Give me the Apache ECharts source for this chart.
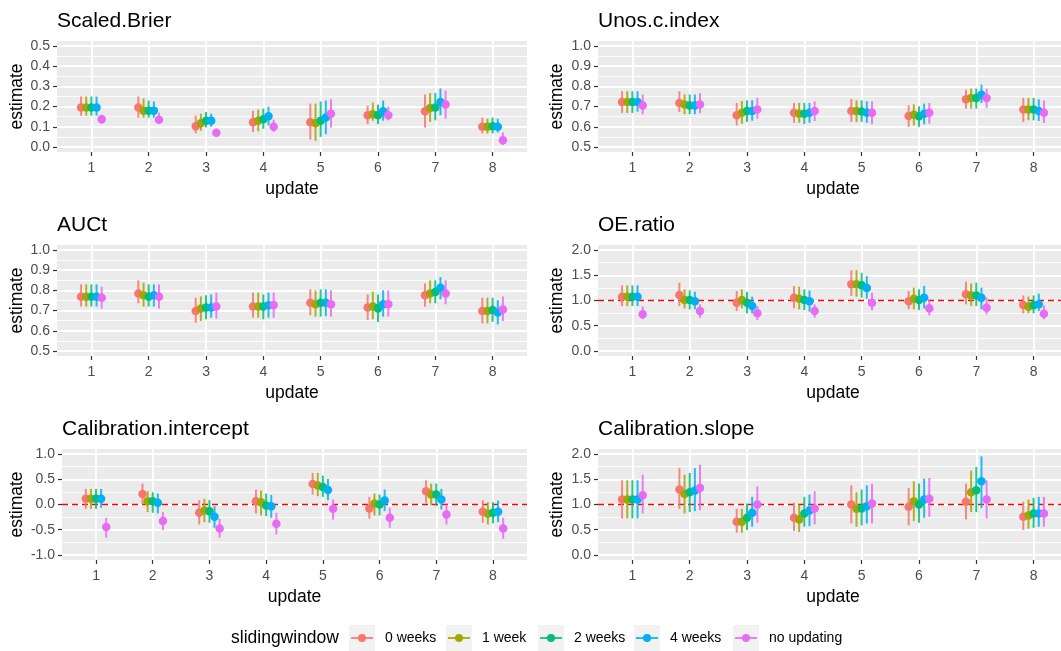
<!DOCTYPE html>
<html>
<head>
<meta charset="utf-8">
<script src="https://cdn.jsdelivr.net/npm/echarts@6/dist/echarts.min.js"></script>
<style>
html,body{margin:0;padding:0;background:#fff;}
#chart{width:1061px;height:651px;}
</style>
</head>
<body>
<div id="chart"></div>
<script>
// categories
const updates = [1, 2, 3, 4, 5, 6, 7, 8];
const windows = ['0 weeks', '1 week', '2 weeks', '4 weeks', 'no updating'];
const metrics = ['Scaled.Brier', 'Unos.c.index', 'AUCt', 'OE.ratio', 'Calibration.intercept', 'Calibration.slope'];
const colors = ['#F8766D', '#A3A500', '#00BF7D', '#00B0F6', '#E76BF3'];

// tick labels per panel
const brierTicks = [0, 0.1, 0.2, 0.3, 0.4, 0.5];
const unosTicks = [0.5, 0.6, 0.7, 0.8, 0.9, 1.0];
const aucTicks = [0.5, 0.6, 0.7, 0.8, 0.9, 1.0];
const oeTicks = [0, 0.5, 1.0, 1.5, 2.0];
const interceptTicks = [-1.0, -0.5, 0, 0.5, 1.0];
const slopeTicks = [0, 0.5, 1.0, 1.5, 2.0];
// reference lines (dashed red)
const refLines = [null, null, null, 1, 0, 1];

// Scaled.Brier  (rows = sliding windows, cols = updates 1..8)
const brierEst = [
  [0.195, 0.195, 0.103, 0.122, 0.122, 0.157, 0.177, 0.100],
  [0.195, 0.180, 0.117, 0.130, 0.117, 0.162, 0.193, 0.100],
  [0.195, 0.180, 0.130, 0.137, 0.130, 0.157, 0.195, 0.103],
  [0.195, 0.180, 0.130, 0.152, 0.146, 0.177, 0.223, 0.100],
  [0.137, 0.135, 0.070, 0.100, 0.165, 0.157, 0.210, 0.033]
];
const brierLo = [
  [0.155, 0.145, 0.067, 0.075, 0.037, 0.113, 0.096, 0.067],
  [0.155, 0.145, 0.080, 0.078, 0.030, 0.130, 0.124, 0.067],
  [0.155, 0.145, 0.097, 0.090, 0.050, 0.113, 0.132, 0.067],
  [0.155, 0.145, 0.100, 0.107, 0.063, 0.130, 0.157, 0.072],
  [0.115, 0.120, 0.062, 0.075, 0.096, 0.132, 0.140, 0.010]
];
const brierHi = [
  [0.250, 0.250, 0.155, 0.180, 0.215, 0.205, 0.260, 0.145],
  [0.250, 0.240, 0.165, 0.185, 0.215, 0.220, 0.267, 0.140],
  [0.250, 0.230, 0.173, 0.190, 0.225, 0.210, 0.267, 0.145],
  [0.250, 0.225, 0.165, 0.200, 0.230, 0.230, 0.290, 0.140],
  [0.160, 0.170, 0.080, 0.135, 0.237, 0.200, 0.280, 0.072]
];

// Unos.c.index
const unosEst = [
  [0.723, 0.718, 0.657, 0.670, 0.678, 0.653, 0.736, 0.685],
  [0.723, 0.710, 0.670, 0.665, 0.678, 0.660, 0.743, 0.685],
  [0.723, 0.706, 0.678, 0.665, 0.676, 0.652, 0.743, 0.685],
  [0.723, 0.706, 0.678, 0.670, 0.670, 0.665, 0.759, 0.678],
  [0.706, 0.710, 0.686, 0.678, 0.670, 0.670, 0.743, 0.670]
];
const unosLo = [
  [0.668, 0.673, 0.607, 0.620, 0.624, 0.600, 0.690, 0.624],
  [0.668, 0.662, 0.615, 0.620, 0.624, 0.606, 0.690, 0.632],
  [0.668, 0.662, 0.624, 0.613, 0.624, 0.600, 0.690, 0.632],
  [0.675, 0.662, 0.630, 0.620, 0.620, 0.612, 0.718, 0.629],
  [0.662, 0.668, 0.640, 0.629, 0.612, 0.616, 0.693, 0.619]
];
const unosHi = [
  [0.776, 0.776, 0.718, 0.718, 0.738, 0.706, 0.784, 0.743],
  [0.776, 0.760, 0.728, 0.718, 0.731, 0.711, 0.789, 0.743],
  [0.776, 0.760, 0.731, 0.718, 0.731, 0.701, 0.789, 0.743],
  [0.776, 0.760, 0.731, 0.718, 0.726, 0.715, 0.809, 0.736],
  [0.760, 0.767, 0.743, 0.726, 0.726, 0.718, 0.789, 0.731]
];

// AUCt
const aucEst = [
  [0.769, 0.785, 0.698, 0.720, 0.739, 0.715, 0.776, 0.698],
  [0.769, 0.776, 0.710, 0.720, 0.731, 0.720, 0.785, 0.698],
  [0.769, 0.769, 0.715, 0.720, 0.739, 0.711, 0.792, 0.703],
  [0.769, 0.776, 0.715, 0.726, 0.739, 0.731, 0.813, 0.690],
  [0.764, 0.769, 0.720, 0.728, 0.731, 0.731, 0.785, 0.706]
];
const aucLo = [
  [0.720, 0.736, 0.640, 0.665, 0.677, 0.653, 0.720, 0.637],
  [0.720, 0.720, 0.648, 0.665, 0.670, 0.657, 0.736, 0.637],
  [0.720, 0.720, 0.657, 0.657, 0.670, 0.643, 0.736, 0.644],
  [0.720, 0.720, 0.665, 0.665, 0.673, 0.670, 0.756, 0.632],
  [0.710, 0.710, 0.660, 0.665, 0.670, 0.670, 0.731, 0.648]
];
const aucHi = [
  [0.830, 0.850, 0.764, 0.789, 0.805, 0.780, 0.835, 0.764],
  [0.830, 0.838, 0.770, 0.789, 0.800, 0.794, 0.850, 0.764],
  [0.830, 0.830, 0.776, 0.780, 0.805, 0.780, 0.850, 0.764],
  [0.830, 0.830, 0.780, 0.789, 0.805, 0.800, 0.866, 0.752],
  [0.818, 0.830, 0.789, 0.789, 0.800, 0.800, 0.850, 0.770]
];

// OE.ratio
const oeEst = [
  [1.076, 1.109, 0.957, 1.056, 1.320, 0.983, 1.122, 0.911],
  [1.076, 1.010, 1.010, 1.036, 1.320, 1.036, 1.100, 0.878],
  [1.076, 1.010, 0.957, 1.010, 1.300, 1.010, 1.100, 0.904],
  [1.076, 0.983, 0.890, 0.983, 1.247, 1.056, 1.056, 0.924],
  [0.726, 0.792, 0.745, 0.792, 0.957, 0.845, 0.858, 0.739]
];
const oeLo = [
  [0.890, 0.890, 0.792, 0.845, 1.090, 0.825, 0.924, 0.746],
  [0.890, 0.845, 0.845, 0.825, 1.076, 0.825, 0.890, 0.746],
  [0.890, 0.825, 0.745, 0.810, 1.056, 0.810, 0.890, 0.746],
  [0.890, 0.825, 0.745, 0.780, 1.036, 0.845, 0.825, 0.792],
  [0.630, 0.660, 0.614, 0.660, 0.810, 0.706, 0.726, 0.627]
];
const oeHi = [
  [1.300, 1.353, 1.188, 1.287, 1.600, 1.188, 1.373, 1.100],
  [1.300, 1.220, 1.220, 1.274, 1.600, 1.254, 1.340, 1.076],
  [1.300, 1.200, 1.170, 1.220, 1.550, 1.220, 1.353, 1.100],
  [1.300, 1.175, 1.076, 1.200, 1.485, 1.287, 1.254, 1.135],
  [0.880, 0.924, 0.890, 0.924, 1.155, 1.023, 1.056, 0.904]
];

// Calibration.intercept
const interceptEst = [
  [0.112, 0.210, -0.164, 0.066, 0.408, -0.079, 0.263, -0.145],
  [0.112, 0.066, -0.118, 0.046, 0.375, 0.020, 0.197, -0.184],
  [0.112, 0.066, -0.132, -0.020, 0.349, 0.000, 0.197, -0.164],
  [0.112, 0.033, -0.243, -0.033, 0.289, 0.079, 0.099, -0.145],
  [-0.447, -0.329, -0.474, -0.382, -0.086, -0.263, -0.197, -0.474]
];
const interceptLo = [
  [-0.086, 0.000, -0.395, -0.178, 0.197, -0.283, 0.033, -0.362],
  [-0.086, -0.151, -0.349, -0.217, 0.164, -0.217, -0.020, -0.395],
  [-0.086, -0.164, -0.362, -0.230, 0.151, -0.217, -0.033, -0.375],
  [-0.066, -0.178, -0.460, -0.263, 0.086, -0.132, -0.099, -0.349],
  [-0.658, -0.507, -0.658, -0.592, -0.296, -0.460, -0.395, -0.678]
];
const interceptHi = [
  [0.310, 0.414, 0.086, 0.296, 0.625, 0.151, 0.480, 0.086],
  [0.310, 0.263, 0.112, 0.276, 0.625, 0.217, 0.414, 0.046],
  [0.310, 0.243, 0.086, 0.217, 0.572, 0.197, 0.414, 0.046],
  [0.310, 0.217, -0.033, 0.190, 0.507, 0.296, 0.310, 0.079],
  [-0.263, -0.151, -0.283, -0.164, 0.099, -0.066, 0.000, -0.263]
];

// Calibration.slope
const slopeEst = [
  [1.099, 1.296, 0.658, 0.737, 1.000, 0.954, 1.053, 0.757],
  [1.099, 1.210, 0.658, 0.704, 0.914, 1.066, 1.243, 0.783],
  [1.099, 1.243, 0.737, 0.822, 0.921, 1.000, 1.283, 0.822],
  [1.099, 1.276, 0.836, 0.882, 0.967, 1.099, 1.460, 0.822],
  [1.184, 1.329, 1.000, 0.921, 1.020, 1.112, 1.099, 0.822]
];
const slopeLo = [
  [0.724, 0.914, 0.440, 0.474, 0.625, 0.586, 0.704, 0.493],
  [0.724, 0.822, 0.440, 0.454, 0.559, 0.671, 0.849, 0.520],
  [0.724, 0.849, 0.493, 0.559, 0.586, 0.638, 0.849, 0.539],
  [0.724, 0.868, 0.559, 0.572, 0.625, 0.737, 0.928, 0.559],
  [0.822, 0.888, 0.638, 0.605, 0.625, 0.757, 0.724, 0.559]
];
const slopeHi = [
  [1.480, 1.720, 0.914, 1.033, 1.380, 1.329, 1.414, 1.053],
  [1.480, 1.590, 0.914, 1.000, 1.243, 1.460, 1.671, 1.099],
  [1.480, 1.625, 1.020, 1.151, 1.296, 1.414, 1.743, 1.132],
  [1.480, 1.720, 1.151, 1.197, 1.380, 1.513, 1.954, 1.151],
  [1.590, 1.790, 1.360, 1.263, 1.414, 1.526, 1.480, 1.151]
];

const panelData = [
  {est: brierEst, lo: brierLo, hi: brierHi, ticks: brierTicks},
  {est: unosEst, lo: unosLo, hi: unosHi, ticks: unosTicks},
  {est: aucEst, lo: aucLo, hi: aucHi, ticks: aucTicks},
  {est: oeEst, lo: oeLo, hi: oeHi, ticks: oeTicks},
  {est: interceptEst, lo: interceptLo, hi: interceptHi, ticks: interceptTicks},
  {est: slopeEst, lo: slopeLo, hi: slopeHi, ticks: slopeTicks}
];

// layout (pixels)
const layout = [
  {left: 57, top: 41, width: 470},
  {left: 598, top: 41, width: 470},
  {left: 57, top: 245, width: 470},
  {left: 598, top: 245, width: 470},
  {left: 62, top: 449, width: 465},
  {left: 598, top: 449, width: 470}
];
const panelH = 111;
const estimateX = [17.5, 557]; // centre of the rotated y title per column
const dodge = [-0.18, -0.09, 0, 0.09, 0.18];
const font = '"Liberation Sans", Arial, sans-serif';

const grids = [], xAxes = [], yAxes = [], series = [], graphics = [];

panelData.forEach((p, i) => {
  const L = layout[i];
  const t = p.ticks;
  const r = t[t.length - 1] - t[0];
  const yMin = t[0] - 0.05 * r, yMax = t[t.length - 1] + 0.05 * r;
  const minors = t.slice(1).map((v, j) => (v + t[j]) / 2);

  grids.push({
    left: L.left, top: L.top, width: L.width, height: panelH,
    show: true, backgroundColor: '#EBEBEB', borderWidth: 0,
    containLabel: false, outerBoundsMode: 'none'
  });

  xAxes.push({
    type: 'value', gridIndex: i, min: 0.4, max: 8.6,
    name: 'update', nameLocation: 'middle', nameGap: 28,
    nameTextStyle: {fontSize: 17.5, color: '#000', fontFamily: font},
    axisLine: {show: false, onZero: false},
    axisTick: {show: true, length: 4, customValues: updates, lineStyle: {color: '#333', width: 1.2}},
    axisLabel: {customValues: updates, margin: 9, fontSize: 14, color: '#4D4D4D', fontFamily: font},
    splitLine: {show: true, lineStyle: {color: '#fff', width: 1.8}}
  });

  const col = L.left > 500 ? 1 : 0;
  yAxes.push({
    type: 'value', gridIndex: i, min: yMin, max: yMax, position: 'left',
    name: 'estimate', nameLocation: 'middle', nameRotate: 90,
    nameGap: L.left - estimateX[col] - 9,
    nameTextStyle: {fontSize: 17.5, color: '#000', fontFamily: font},
    axisLine: {show: false, onZero: false},
    axisTick: {show: true, length: 4, customValues: t, lineStyle: {color: '#333', width: 1.2}},
    axisLabel: {customValues: t, margin: 7, fontSize: 14, color: '#4D4D4D', fontFamily: font,
      formatter: v => (+v).toFixed(1)},
    splitLine: {show: true, lineStyle: {color: '#fff', width: 1.8}}
  });
  // minor grid lines
  yAxes.push({
    type: 'value', gridIndex: i, min: yMin, max: yMax, position: 'left',
    axisLine: {show: false, onZero: false},
    axisTick: {show: false, customValues: minors},
    axisLabel: {show: false, customValues: minors},
    splitLine: {show: true, lineStyle: {color: '#fff', width: 0.9}}
  });

  if (refLines[i] !== null) {
    series.push({
      type: 'line', xAxisIndex: i, yAxisIndex: 2 * i, silent: true,
      data: [[0.4, refLines[i]], [8.6, refLines[i]]],
      symbol: 'none', lineStyle: {color: '#FF0000', type: [6, 4], width: 1.5}, z: 1
    });
  }

  // error bars first, then points (as geom_pointrange does)
  windows.forEach((w, k) => {
    series.push({
      type: 'custom', name: w, xAxisIndex: i, yAxisIndex: 2 * i, silent: true,
      encode: {x: 0, y: [1, 2]},
      data: updates.map((u, j) => [u + dodge[k], p.lo[k][j], p.hi[k][j]]),
      renderItem: (params, api) => {
        const a = api.coord([api.value(0), api.value(1)]);
        const b = api.coord([api.value(0), api.value(2)]);
        return {
          type: 'line',
          shape: {x1: a[0], y1: a[1], x2: b[0], y2: b[1]},
          style: {stroke: colors[k], lineWidth: 2, opacity: 0.85}
        };
      }
    });
  });
  windows.forEach((w, k) => {
    series.push({
      type: 'scatter', name: w, xAxisIndex: i, yAxisIndex: 2 * i, silent: true,
      symbolSize: 8.5, itemStyle: {color: colors[k], opacity: 1},
      data: updates.map((u, j) => [u + dodge[k], p.est[k][j]])
    });
  });

  graphics.push({
    type: 'text', x: L.left, y: L.top - 20,
    style: {text: metrics[i], fill: '#000', font: '21px ' + font, verticalAlign: 'middle'}
  });
});

// legend
const legendY = 638;
const keyX = [349, 446, 538, 634, 733];
graphics.push({
  type: 'text', x: 231, y: legendY,
  style: {text: 'slidingwindow', fill: '#000', font: '17.5px ' + font, verticalAlign: 'middle'}
});
windows.forEach((w, k) => {
  const x = keyX[k];
  graphics.push({type: 'rect', shape: {x: x, y: legendY - 13, width: 26, height: 26}, style: {fill: '#F2F2F2'}});
  graphics.push({type: 'line', shape: {x1: x + 2, y1: legendY, x2: x + 24, y2: legendY},
    style: {stroke: colors[k], lineWidth: 2, opacity: 0.85}});
  graphics.push({type: 'circle', shape: {cx: x + 13, cy: legendY, r: 4}, style: {fill: colors[k]}});
  graphics.push({type: 'text', x: x + 36, y: legendY,
    style: {text: w, fill: '#000', font: '14px ' + font, verticalAlign: 'middle'}});
});

const myChart = echarts.init(document.getElementById('chart'));
myChart.setOption({
  animation: false,
  backgroundColor: '#fff',
  textStyle: {fontFamily: font},
  grid: grids,
  xAxis: xAxes,
  yAxis: yAxes,
  series: series,
  graphic: graphics
});
</script>
</body>
</html>
